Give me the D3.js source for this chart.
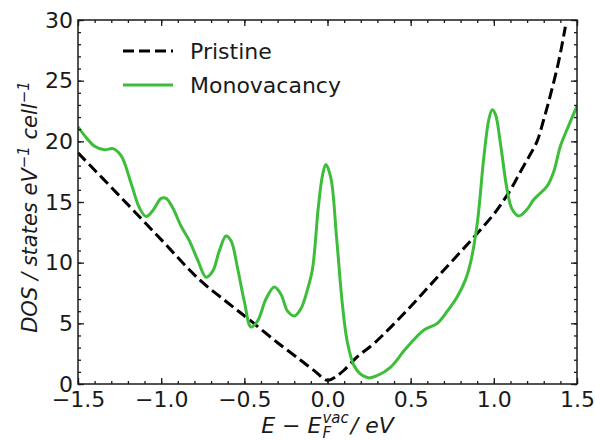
<!DOCTYPE html>
<html>
<head>
<meta charset="utf-8">
<script src="https://cdn.jsdelivr.net/npm/d3@7"></script>
<style>
  body { margin: 0; background: #fff; }
  text { font-family: "DejaVu Sans", sans-serif; fill: #1a1a1a; }
</style>
</head>
<body>
<div id="chart"></div>
<script>
// energy (eV) and DOS (states eV^-1 cell^-1)
var pristineE   = [-1.5, -1.25, -1.0, -0.77, -0.6, -0.47, -0.3, -0.165, -0.08, 0.0, 0.05, 0.1, 0.18, 0.28, 0.48, 0.68, 0.88, 1.0, 1.04, 1.1, 1.16, 1.21, 1.26, 1.3, 1.34, 1.39, 1.43];
var pristineDOS = [19.05, 15.5, 11.9, 8.6, 6.7, 5.3, 3.4, 2.0, 1.1, 0.3, 0.6, 1.15, 2.25, 3.35, 6.1, 9.1, 12.1, 14.0, 14.75, 16.0, 17.5, 18.7, 20.0, 21.8, 23.8, 26.6, 29.45];

var monoE   = [-1.5, -1.45, -1.4, -1.34, -1.29, -1.24, -1.18, -1.13, -1.09, -1.05, -1.0, -0.97, -0.93, -0.88, -0.83, -0.78, -0.73, -0.69, -0.65, -0.61, -0.58, -0.54, -0.5, -0.46, -0.42, -0.37, -0.32, -0.28, -0.24, -0.2, -0.16, -0.12, -0.09, -0.055, -0.03, -0.01, 0.02, 0.055, 0.09, 0.12, 0.16, 0.2, 0.25, 0.3, 0.38, 0.47, 0.58, 0.66, 0.72, 0.78, 0.83, 0.86, 0.9, 0.94, 0.97, 0.99, 1.01, 1.04, 1.08, 1.11, 1.15, 1.2, 1.24, 1.32, 1.36, 1.4, 1.45, 1.5];
var monoDOS = [21.2, 20.3, 19.6, 19.3, 19.4, 18.8, 16.5, 14.5, 13.8, 14.3, 15.3, 15.3, 14.5, 13.0, 11.8, 10.2, 8.8, 9.3, 11.0, 12.2, 11.8, 9.5, 6.8, 4.7, 5.2, 7.0, 8.0, 7.4, 6.0, 5.6, 6.2, 7.8, 9.5, 14.6, 17.2, 18.1, 17.0, 12.0, 6.5, 3.4, 1.5, 0.8, 0.5, 0.7, 1.4, 2.9, 4.45, 5.0, 6.0, 7.2, 8.6, 10.0, 13.2, 18.7, 21.8, 22.6, 22.2, 19.8, 16.0, 14.4, 13.85, 14.4, 15.2, 16.3, 17.5, 19.6, 21.3, 22.9];

var xTicks = [-1.5, -1.0, -0.5, 0.0, 0.5, 1.0, 1.5];
var yTicks = [0, 5, 10, 15, 20, 25, 30];
var seriesNames = ["Pristine", "Monovacancy"];

var W = 595, H = 441;
var m = {left: 78, right: 18, top: 20, bottom: 57};
var iw = W - m.left - m.right, ih = H - m.top - m.bottom;
var green = "#3dbd3a";

var svg = d3.select("#chart").append("svg").attr("width", W).attr("height", H);
var g = svg.append("g").attr("transform", "translate(" + m.left + "," + m.top + ")");

var x = d3.scaleLinear().domain([-1.5, 1.5]).range([0, iw]);
var y = d3.scaleLinear().domain([0, 30]).range([ih, 0]);

g.append("clipPath").attr("id", "clip").append("rect").attr("width", iw).attr("height", ih);

var line = d3.line()
  .x(function (d) { return x(d[0]); })
  .y(function (d) { return y(d[1]); })
  .curve(d3.curveCatmullRom.alpha(0.5));

var pristine = d3.zip(pristineE, pristineDOS);
var mono = d3.zip(monoE, monoDOS);

g.append("path").datum(pristine).attr("clip-path", "url(#clip)")
  .attr("d", line).attr("fill", "none").attr("stroke", "#000")
  .attr("stroke-width", 3).attr("stroke-dasharray", "11,5");
g.append("path").datum(mono).attr("clip-path", "url(#clip)")
  .attr("d", line).attr("fill", "none").attr("stroke", green)
  .attr("stroke-width", 3);

// axes, ticks inward on all four sides
var xMinor = d3.range(-15, 16).map(function (v) { return v / 10; });
var yMinor = d3.range(0, 31);
function styleAxis(sel) {
  sel.select(".domain").remove();
  sel.selectAll("line").attr("stroke", "#1a1a1a").attr("stroke-width", 1.3);
  sel.selectAll("text").style("font-size", "22px").attr("fill", "#1a1a1a");
}
g.append("g").attr("transform", "translate(0," + ih + ")")
  .call(d3.axisBottom(x).tickValues(xMinor).tickSize(-3).tickFormat("")).call(styleAxis);
g.append("g").attr("transform", "translate(0," + ih + ")")
  .call(d3.axisBottom(x).tickValues(xTicks).tickSize(-6).tickPadding(7).tickFormat(d3.format(".1f"))).call(styleAxis);
g.append("g")
  .call(d3.axisTop(x).tickValues(xMinor).tickSize(-3).tickFormat("")).call(styleAxis);
g.append("g")
  .call(d3.axisTop(x).tickValues(xTicks).tickSize(-6).tickFormat("")).call(styleAxis);
g.append("g")
  .call(d3.axisLeft(y).tickValues(yMinor).tickSize(-3).tickFormat("")).call(styleAxis);
g.append("g")
  .call(d3.axisLeft(y).tickValues(yTicks).tickSize(-6).tickPadding(5).tickFormat(d3.format("d"))).call(styleAxis);
g.append("g").attr("transform", "translate(" + iw + ",0)")
  .call(d3.axisRight(y).tickValues(yMinor).tickSize(-3).tickFormat("")).call(styleAxis);
g.append("g").attr("transform", "translate(" + iw + ",0)")
  .call(d3.axisRight(y).tickValues(yTicks).tickSize(-6).tickFormat("")).call(styleAxis);

g.append("rect").attr("width", iw).attr("height", ih)
  .attr("fill", "none").attr("stroke", "#1a1a1a").attr("stroke-width", 1.5);

// legend
var leg = g.append("g").attr("transform", "translate(45,31)");
seriesNames.forEach(function (name, i) {
  var row = leg.append("g").attr("transform", "translate(0," + (i * 34) + ")");
  row.append("line").attr("x1", 0).attr("x2", 50)
    .attr("stroke", i === 0 ? "#000" : green).attr("stroke-width", 3)
    .attr("stroke-dasharray", i === 0 ? "11,5" : null);
  row.append("text").attr("x", 67).attr("y", 8).style("font-size", "22px").text(name);
});

// axis labels
var yl = svg.append("text")
  .attr("transform", "translate(37,207) rotate(-90)")
  .attr("text-anchor", "middle").style("font-size", "21px").style("font-style", "italic");
yl.append("tspan").text("DOS / states eV");
yl.append("tspan").attr("dy", -8).style("font-size", "15px").text("\u22121");
yl.append("tspan").attr("dy", 8).text(" cell");
yl.append("tspan").attr("dy", -8).style("font-size", "15px").text("\u22121");

var xl = svg.append("g").style("font-style", "italic");
var t1 = xl.append("text").attr("x", 0).style("font-size", "22px").text("E \u2212 E");
var w1 = t1.node().getComputedTextLength();
var sub = xl.append("text").attr("x", w1 + 1).attr("y", 5).style("font-size", "15px").text("F");
var sup = xl.append("text").attr("x", w1 + 1).attr("y", -10).style("font-size", "15px").text("vac");
var ws = Math.max(sub.node().getComputedTextLength(), sup.node().getComputedTextLength());
var t2 = xl.append("text").attr("x", w1 + ws + 3).style("font-size", "22px").text(" / eV");
var total = w1 + ws + 3 + t2.node().getComputedTextLength();
xl.attr("transform", "translate(" + (m.left + iw / 2 - total / 2) + ",433)");
</script>
</body>
</html>
